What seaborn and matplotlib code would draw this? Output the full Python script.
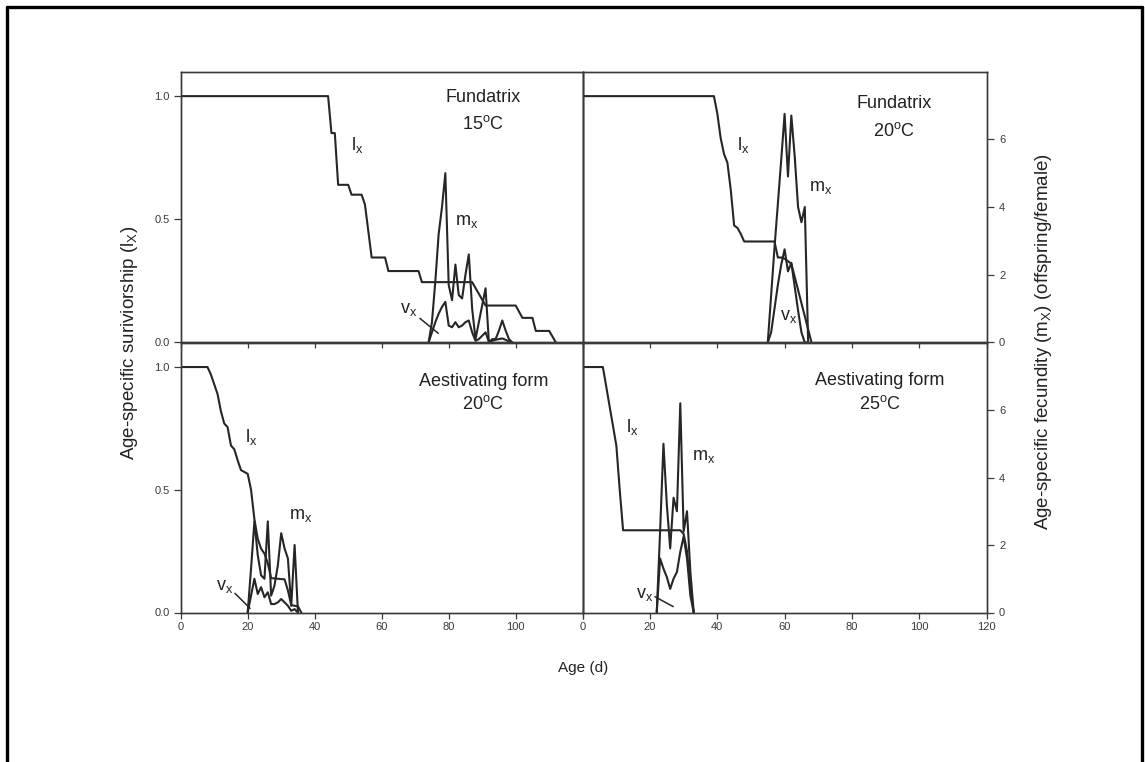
import matplotlib
matplotlib.use("Agg")
import matplotlib.pyplot as plt
from matplotlib.lines import Line2D
import seaborn as sns

# ---- Fundatrix, 15 C -------------------------------------------------
f15_lx_age = [0, 44, 45, 46, 47, 50, 51, 54, 55, 57, 61, 62, 71, 72, 87, 91,
              100, 102, 105, 106, 110, 112]
f15_lx = [1.00, 1.00, 0.85, 0.85, 0.64, 0.64, 0.60, 0.60, 0.56, 0.345, 0.345,
          0.29, 0.29, 0.245, 0.245, 0.15, 0.15, 0.10, 0.10, 0.047, 0.047, 0.0]
f15_age = [74, 75, 76, 77, 78, 79, 80, 81, 82, 83, 84, 85, 86, 87, 88, 89, 90,
           91, 92, 93, 94, 95, 96, 97, 98, 99]
f15_mx = [0.0, 0.6, 1.8, 3.2, 4.0, 5.0, 1.7, 1.25, 2.3, 1.4, 1.3, 2.0, 2.6,
          1.0, 0.1, 0.6, 1.1, 1.6, 0.0, 0.1, 0.1, 0.35, 0.65, 0.35, 0.1, 0.0]
f15_vx = [0.0, 0.3, 0.6, 0.85, 1.05, 1.2, 0.5, 0.45, 0.6, 0.45, 0.5, 0.6, 0.65,
          0.3, 0.05, 0.1, 0.2, 0.3, 0.02, 0.05, 0.08, 0.1, 0.12, 0.08, 0.03, 0.0]

# ---- Fundatrix, 20 C -------------------------------------------------
f20_lx_age = [0, 39, 40, 41, 42, 43, 44, 45, 46, 47, 48, 57, 58, 59, 60, 61,
              62, 68]
f20_lx = [1.0, 1.0, 0.93, 0.83, 0.765, 0.73, 0.62, 0.475, 0.465, 0.44, 0.41,
          0.41, 0.345, 0.345, 0.34, 0.33, 0.32, 0.0]
f20_age = [55, 56, 57, 58, 59, 60, 61, 62, 63, 64, 65, 66, 67]
f20_mx = [0.0, 1.4, 2.8, 4.1, 5.4, 6.75, 4.9, 6.7, 5.5, 4.0, 3.55, 4.0, 0.0]
f20_vx = [0.0, 0.3, 1.0, 1.7, 2.3, 2.75, 2.1, 2.35, 1.65, 0.95, 0.3, 0.0, 0.0]

# ---- Aestivating form, 20 C ------------------------------------------
a20_lx_age = [0, 8, 9, 10, 11, 12, 13, 14, 15, 16, 17, 18, 20, 21, 22, 23, 24,
              25, 26, 27, 31, 32, 33, 35, 36]
a20_lx = [1.0, 1.0, 0.97, 0.93, 0.89, 0.82, 0.77, 0.755, 0.68, 0.665, 0.62,
          0.58, 0.565, 0.50, 0.38, 0.30, 0.26, 0.24, 0.20, 0.14, 0.135, 0.09,
          0.03, 0.025, 0.0]
a20_age = [20, 21, 22, 23, 24, 25, 26, 27, 28, 29, 30, 31, 32, 33, 34, 35]
a20_mx = [0.0, 1.3, 2.7, 1.7, 1.1, 1.0, 2.7, 0.5, 0.8, 1.4, 2.35, 1.9, 1.6,
          0.2, 2.0, 0.0]
a20_vx = [0.0, 0.5, 1.0, 0.55, 0.75, 0.45, 0.6, 0.25, 0.25, 0.3, 0.4, 0.3,
          0.2, 0.05, 0.1, 0.0]

# ---- Aestivating form, 25 C ------------------------------------------
a25_lx_age = [0, 6, 7, 8, 9, 10, 11, 12, 29, 30, 31, 32, 33]
a25_lx = [1.0, 1.0, 0.92, 0.84, 0.76, 0.68, 0.50, 0.335, 0.335, 0.32, 0.25,
          0.10, 0.0]
a25_age = [22, 23, 24, 25, 26, 27, 28, 29, 30, 31, 32, 33]
a25_mx = [0.0, 2.4, 5.0, 3.2, 1.9, 3.4, 3.0, 6.2, 2.4, 3.0, 1.2, 0.0]
a25_vx = [0.0, 1.6, 1.3, 1.05, 0.7, 1.0, 1.2, 1.8, 2.25, 1.6, 0.5, 0.0]

age_ticks = [0, 20, 40, 60, 80, 100, 120]
lx_ticks = [0.0, 0.5, 1.0]
lx_tick_labels = ["0.0", "0.5", "1.0"]
mx_ticks = [0, 2, 4, 6]

sns.set_theme(style="ticks")
plt.rcParams["font.family"] = ["Liberation Sans", "DejaVu Sans"]
plt.rcParams["mathtext.fontset"] = "custom"
plt.rcParams["mathtext.rm"] = "Liberation Sans"
plt.rcParams["mathtext.it"] = "Liberation Sans:italic"
plt.rcParams["mathtext.bf"] = "Liberation Sans:bold"

INK = "#262626"
SPINE = "#3a3a3a"
TXT = "#222222"
LW = 1.5

fig = plt.figure(figsize=(11.45, 7.62), dpi=100)
fig.patch.set_facecolor("white")

W, H = 1145.0, 762.0


def rect(x0, y0, x1, y1):
    return [x0 / W, 1 - y1 / H, (x1 - x0) / W, (y1 - y0) / H]


panels = [
    dict(pos=rect(180.7, 71.5, 582.7, 342.5), lx_age=f15_lx_age, lx=f15_lx,
         age=f15_age, mx=f15_mx, vx=f15_vx, col=0, row=0,
         title=("Fundatrix", "15$^{\\mathrm{o}}$C", 90.3, 0.995, 0.885),
         l_pos=(52.8, 0.80), m_pos=(85.5, 0.49), v_pos=(68.2, 0.135),
         v_lead=((71.4, 0.098), (76.9, 0.037))),
    dict(pos=rect(582.7, 71.5, 986.5, 342.5), lx_age=f20_lx_age, lx=f20_lx,
         age=f20_age, mx=f20_mx, vx=f20_vx, col=1, row=0,
         title=("Fundatrix", "20$^{\\mathrm{o}}$C", 92.6, 0.97, 0.86),
         l_pos=(47.8, 0.80), m_pos=(70.6, 0.63), v_pos=(61.2, 0.105),
         v_lead=None),
    dict(pos=rect(180.7, 342.5, 582.7, 612.5), lx_age=a20_lx_age, lx=a20_lx,
         age=a20_age, mx=a20_mx, vx=a20_vx, col=0, row=1,
         title=("Aestivating form", "20$^{\\mathrm{o}}$C", 90.3, 0.94, 0.85),
         l_pos=(20.9, 0.715), m_pos=(35.8, 0.395), v_pos=(13.2, 0.105),
         v_lead=((16.2, 0.078), (20.7, 0.017))),
    dict(pos=rect(582.7, 342.5, 986.5, 612.5), lx_age=a25_lx_age, lx=a25_lx,
         age=a25_age, mx=a25_mx, vx=a25_vx, col=1, row=1,
         title=("Aestivating form", "25$^{\\mathrm{o}}$C", 88.3, 0.944, 0.85),
         l_pos=(14.7, 0.755), m_pos=(36.0, 0.635), v_pos=(18.5, 0.072),
         v_lead=((21.5, 0.064), (26.9, 0.024))),
]

for p in panels:
    ax = fig.add_axes(p["pos"])
    ax2 = ax.twinx()

    # survivorship on the left scale, fecundity and reproductive value on the right
    sns.lineplot(x=p["lx_age"], y=p["lx"], ax=ax, color=INK, lw=LW,
                 estimator=None)
    sns.lineplot(x=p["age"], y=p["mx"], ax=ax2, color=INK, lw=LW,
                 estimator=None)
    sns.lineplot(x=p["age"], y=p["vx"], ax=ax2, color=INK, lw=LW,
                 estimator=None)

    ax.set_xlim(0, 120)
    ax.set_ylim(0, 1.1)
    ax2.set_ylim(0, 8)
    for a in (ax, ax2):
        a.set_xlabel("")
        a.set_ylabel("")
        a.patch.set_alpha(0)
        for s in a.spines.values():
            s.set_visible(True)
            s.set_color(SPINE)
            s.set_linewidth(1.0)

    ax.set_xticks(age_ticks)
    if p["row"] == 1:
        labels = [str(t) for t in age_ticks]
        if p["col"] == 0:
            labels[-1] = ""
        ax.set_xticklabels(labels)
        ax.tick_params(axis="x", labelbottom=True)
    else:
        ax.tick_params(axis="x", labelbottom=False)
    ax.tick_params(axis="x", direction="out", length=4, width=0.9,
                   color=SPINE, labelsize=8, labelcolor="#3a3a3a", pad=3)

    if p["col"] == 0:
        ax.set_yticks(lx_ticks)
        ax.set_yticklabels(lx_tick_labels)
        ax.tick_params(axis="y", direction="out", length=5, width=0.9,
                       color=SPINE, labelsize=8, labelcolor="#3a3a3a", pad=3)
        ax2.set_yticks([])
    else:
        ax.set_yticks([])
        ax2.set_yticks(mx_ticks)
        ax2.tick_params(axis="y", direction="out", length=5, width=0.9,
                        color=SPINE, labelsize=8, labelcolor="#3a3a3a", pad=4)

    t1, t2, tx, ty1, ty2 = p["title"]
    ax.text(tx, ty1, t1, ha="center", va="center", fontsize=13, color=TXT)
    ax.text(tx, ty2, t2, ha="center", va="center", fontsize=13, color=TXT)

    ax.text(*p["l_pos"], "l$_{\\mathrm{x}}$", ha="center", va="center",
            fontsize=13, color=TXT)
    ax.text(*p["m_pos"], "m$_{\\mathrm{x}}$", ha="center", va="center",
            fontsize=13, color=TXT)
    ax.text(*p["v_pos"], "v$_{\\mathrm{x}}$", ha="center", va="center",
            fontsize=13, color=TXT)
    if p["v_lead"] is not None:
        start, end = p["v_lead"]
        ax.annotate("", xy=end, xytext=start,
                    arrowprops=dict(arrowstyle="-", color=INK, lw=1.1,
                                    shrinkA=0, shrinkB=0))

# shared axis titles
fig.text(130 / W, 1 - 343 / H, "Age-specific suriviorship (l$_{\\mathrm{X}}$)",
         rotation=90, ha="center", va="center", fontsize=13.5, color=TXT)
fig.text(1043 / W, 1 - 341 / H,
         "Age-specific fecundity (m$_{\\mathrm{X}}$) (offspring/female)",
         rotation=90, ha="center", va="center", fontsize=13.5, color=TXT)
fig.text(583 / W, 1 - 668 / H, "Age (d)", ha="center", va="center",
         fontsize=11, color=TXT)

# page frame, open at the bottom edge
frame = dict(transform=fig.transFigure, color="black", lw=2.4)
fig.add_artist(Line2D([7 / W, 7 / W], [0, 1 - 7 / H], **frame))
fig.add_artist(Line2D([7 / W, 1142 / W], [1 - 7 / H, 1 - 7 / H], **frame))
fig.add_artist(Line2D([1142 / W, 1142 / W], [0, 1 - 7 / H], **frame))

fig.savefig("out.png", dpi=100, facecolor="white")
